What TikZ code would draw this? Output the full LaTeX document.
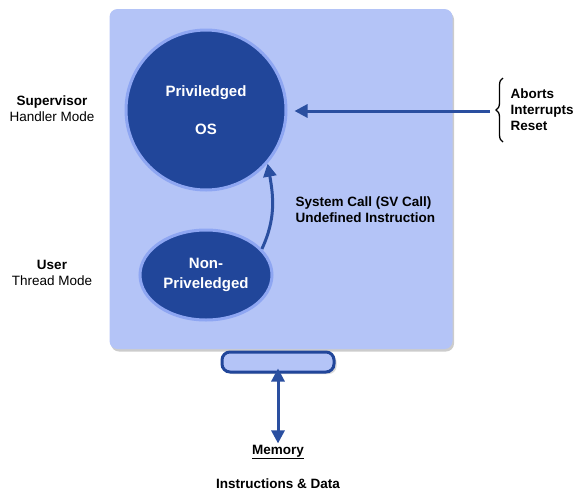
\documentclass[tikz,border=0pt]{standalone}
\usepackage{fontspec}
\setmainfont{Liberation Sans}
\usepackage{tikz}
\usetikzlibrary{positioning, arrows.meta, decorations.pathreplacing, shadows, shapes.geometric}

\definecolor{panelblue}{HTML}{B4C4F7}
\definecolor{modeblue}{HTML}{21469A}
\definecolor{ringblue}{HTML}{8EA6F2}
\definecolor{linkblue}{HTML}{2A4FA0}

\begin{document}
\begin{tikzpicture}[
    x=1pt, y=-1pt,
    panel/.style={fill=panelblue, rounded corners=8pt, drop shadow={opacity=0.4, shadow xshift=1.5pt, shadow yshift=-2.5pt}},
    mode/.style={fill=modeblue, draw=ringblue, line width=3pt, text=white, align=center, font=\fontsize{15}{20}\selectfont\bfseries},
    lbl/.style={align=center, font=\fontsize{13.5}{16}\selectfont},
    link/.style={draw=linkblue, line width=3pt, -{Triangle[length=13pt, width=13pt]}}
]
\useasboundingbox (0,0) rectangle (576,491);

\node[panel, minimum width=343pt, minimum height=340pt] (cpu) at (281,179) {};

\node[mode, circle, minimum size=160pt] (priv) at (206,110) {Priviledged\\[18pt]OS};
\node[mode, ellipse, minimum width=132pt, minimum height=90pt, inner sep=0pt] (nonpriv) at (206,275) {Non-\\Priveledged};

\node[lbl] (super) at (52,109) {\textbf{Supervisor}\\Handler Mode};
\node[lbl] (user) at (52,273) {\textbf{User}\\Thread Mode};

% exceptions from outside
\node[lbl, anchor=west, align=left, font=\fontsize{13.5}{16}\selectfont\bfseries] (exc) at (507,110) {Aborts\\Interrupts\\Reset};
\draw[decorate, decoration={brace, amplitude=7pt}, line width=1.3pt] (503,142) -- (503,78);
\coordinate (irq) at (490,111);
\draw[link] (irq) -- ([xshift=7pt]priv.east |- irq);

% system call
\node[lbl, anchor=west, align=left, font=\fontsize{13.5}{16}\selectfont\bfseries] (svc) at (292,210) {System Call (SV Call)\\Undefined Instruction};
\draw[link] (nonpriv.25) to[out=65, in=-80] ([xshift=4pt, yshift=4pt]priv.-45);

% memory bus
\node[fill=panelblue, draw=modeblue, line width=3pt, rounded corners=8pt, minimum width=112pt, minimum height=20pt, drop shadow={opacity=0.3, shadow yshift=-2pt}] (bus) at (278,362) {};
\node[lbl, font=\fontsize{13.5}{16}\selectfont\bfseries] (mem) at (278,452) {\underline{Memory}};
\node[lbl, font=\fontsize{13.5}{16}\selectfont\bfseries] (data) at (278,484) {Instructions \& Data};
\draw[link, {Triangle[length=13pt, width=13pt]}-{Triangle[length=13pt, width=13pt]}] ([yshift=5pt]bus.south) -- ([yshift=-2pt]mem.north);
\end{tikzpicture}
\end{document}
